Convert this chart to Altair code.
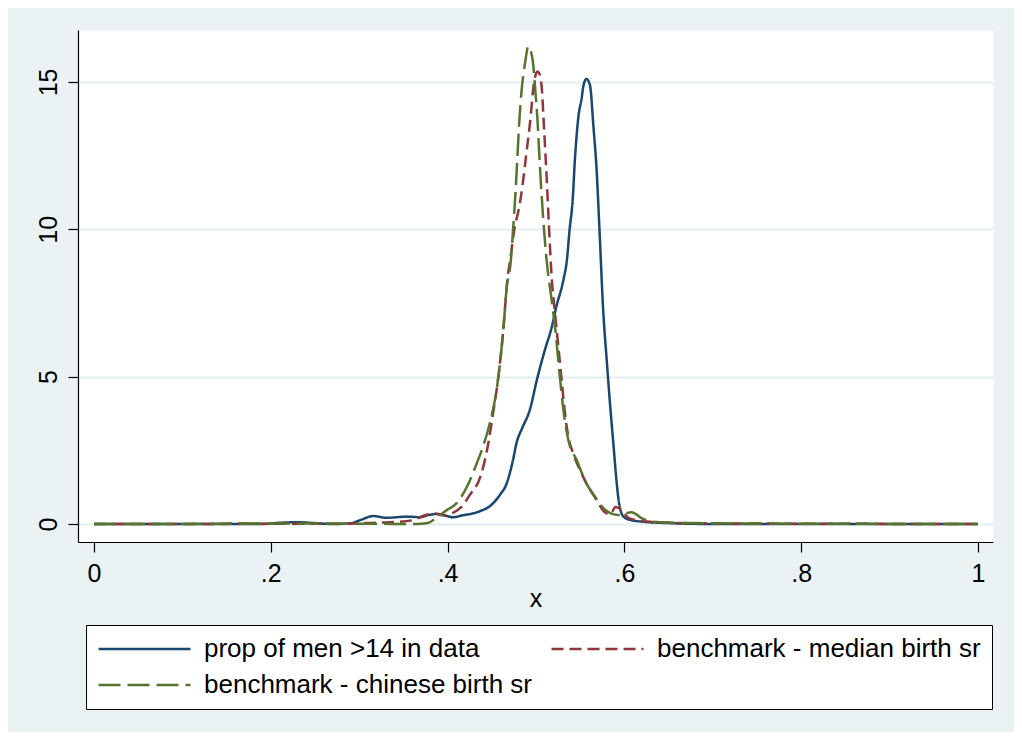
import altair as alt
import pandas as pd

series_names = ["prop of men >14 in data", "benchmark - median birth sr", "benchmark - chinese birth sr"]
series_colors = ["#1A476F", "#90353B", "#55752F"]
series_dashes = [[1, 0], [12, 6], [22, 7]]
# legend entries are laid out column-major: this order puts median in row 1, column 2
legend_order = [0, 2, 1]

x_ticks = [0, 0.2, 0.4, 0.6, 0.8, 1.0]
y_ticks = [0, 5, 10, 15]

blue_x = [0, 0.1, 0.19, 0.21, 0.23, 0.25, 0.27, 0.29, 0.301, 0.316, 0.331, 0.354, 0.369, 0.378,
          0.388, 0.399, 0.406, 0.418, 0.429, 0.437, 0.448, 0.459, 0.467, 0.474, 0.478, 0.485,
          0.493, 0.501, 0.510, 0.518, 0.523, 0.531, 0.535, 0.538, 0.5415, 0.544, 0.548, 0.5517,
          0.5535, 0.557, 0.561, 0.565, 0.5686, 0.572, 0.576, 0.580, 0.584, 0.5875, 0.591, 0.594,
          0.599, 0.606, 0.62, 0.65, 0.7, 0.8, 0.9, 1.0]
blue_y = [0, 0, 0, 0.04, 0.06, 0.03, 0.0, 0.02, 0.13, 0.27, 0.21, 0.25, 0.23, 0.3,
          0.34, 0.27, 0.23, 0.3, 0.36, 0.44, 0.61, 0.98, 1.39, 2.17, 2.75, 3.29,
          3.87, 4.89, 5.9, 6.7, 7.37, 8.28, 8.96, 9.98, 11.0, 12.35, 13.82, 14.45,
          14.84, 15.1, 14.9, 13.48, 12.0, 9.87, 7.26, 5.57, 3.98, 2.74, 1.49, 0.7,
          0.25, 0.14, 0.08, 0.03, 0.0, 0, 0, 0]

red_x = [0, 0.1, 0.2, 0.286, 0.305, 0.335, 0.361, 0.372, 0.384, 0.395, 0.406, 0.416, 0.425,
         0.437, 0.4446, 0.4515, 0.457, 0.463, 0.4676, 0.471, 0.476, 0.48, 0.4846, 0.4887,
         0.4932, 0.4977, 0.5015, 0.5035, 0.5064, 0.509, 0.512, 0.5147, 0.5177, 0.5215, 0.5253,
         0.529, 0.5328, 0.5366, 0.542, 0.5498, 0.557, 0.5687, 0.577, 0.584, 0.59, 0.596,
         0.605, 0.62, 0.65, 0.7, 0.8, 1.0]
red_y = [0, 0, 0.01, 0.01, 0.03, 0.06, 0.13, 0.27, 0.36, 0.3, 0.38, 0.59, 0.98,
         1.6, 2.5, 3.76, 4.89, 6.58, 8.28, 9.0, 10.09, 10.6, 11.45, 12.47,
         13.6, 14.95, 15.35, 15.3, 14.84, 13.48, 11.79, 10.09, 8.39, 7.15, 6.02,
         4.89, 3.76, 2.96, 2.4, 1.83, 1.38, 0.81, 0.42, 0.33, 0.58, 0.5,
         0.2, 0.1, 0.04, 0.02, 0.01, 0]

green_x = [0, 0.1, 0.176, 0.2, 0.3, 0.365, 0.377, 0.388, 0.399, 0.41, 0.422, 0.433, 0.4386,
           0.448, 0.456, 0.463, 0.467, 0.4713, 0.4743, 0.477, 0.479, 0.481, 0.4838, 0.4876,
           0.4913, 0.4962, 0.4995, 0.5015, 0.5045, 0.508, 0.512, 0.5177, 0.5215, 0.527, 0.531,
           0.5366, 0.546, 0.557, 0.5667, 0.576, 0.584, 0.595, 0.608, 0.62, 0.632, 0.678, 0.8, 1.0]
green_y = [0, 0, 0.02, 0.02, 0.01, 0.0, 0.03, 0.23, 0.47, 0.7, 1.27, 2.06, 2.5,
           3.45, 4.66, 6.58, 8.05, 8.86, 10.09, 11.33, 12.47, 13.6, 14.73, 15.63,
           16.2, 15.75, 14.6, 13.8, 12.1, 10.43, 8.96, 7.6, 6.7, 5.0, 3.87,
           2.85, 2.17, 1.38, 0.93, 0.55, 0.37, 0.3, 0.4, 0.19, 0.08, 0.03, 0.01, 0]

rows = []
for name, xs, ys in zip(series_names, [blue_x, red_x, green_x], [blue_y, red_y, green_y]):
    for i, (a, b) in enumerate(zip(xs, ys)):
        rows.append({"x": a, "density": b, "series": name, "idx": i})
df = pd.DataFrame(rows)

dom = [series_names[i] for i in legend_order]
rng_c = [series_colors[i] for i in legend_order]
rng_d = [series_dashes[i] for i in legend_order]

FONT = "Liberation Sans"

legend = alt.Legend(
    title=None, orient="none", legendX=8, legendY=595, columns=2,
    columnPadding=13, rowPadding=10, padding=11,
    strokeColor="black", fillColor="white",
    symbolType="M-1,0H7", symbolSize=529, symbolStrokeWidth=2.4, symbolOffset=0,
    labelOffset=81, labelFontSize=26, labelFont=FONT, labelColor="black", labelLimit=600,
)

chart = alt.Chart(df).mark_line(strokeWidth=2.5, strokeJoin="round", strokeCap="butt",
                                interpolate="monotone").encode(
    x=alt.X("x:Q",
            scale=alt.Scale(domain=[-0.0181, 1.017], nice=False, zero=False),
            axis=alt.Axis(values=x_ticks, title="x",
                          labelExpr="datum.value == 0 ? '0' : datum.value == 1 ? '1' : replace(format(datum.value, '.1f'), '0.', '.')",
                          grid=False, tickSize=10, labelPadding=9, titlePadding=0)),
    y=alt.Y("density:Q",
            scale=alt.Scale(domain=[-0.611, 16.76], nice=False, zero=False),
            axis=alt.Axis(values=y_ticks, title=None, labelAngle=270, labelAlign="center",
                          labelBaseline="bottom", grid=True, tickSize=10, labelPadding=7)),
    color=alt.Color("series:N", scale=alt.Scale(domain=dom, range=rng_c), legend=legend),
    strokeDash=alt.StrokeDash("series:N", scale=alt.Scale(domain=dom, range=rng_d), legend=legend),
    order=alt.Order("idx:Q"),
).properties(
    width=915, height=512,
    autosize=alt.AutoSizeParams(type="none"),
    padding={"left": 70, "top": 22, "right": 21, "bottom": 190},
    background="#EAF2F3",
).configure_view(
    fill="white", stroke="transparent"
).configure_axis(
    labelFont=FONT, titleFont=FONT, labelFontSize=25, titleFontSize=25,
    titleFontWeight="normal", labelColor="black", titleColor="black",
    domainColor="black", domainWidth=1.2, tickColor="black", tickWidth=1.2,
    gridColor="#E4EDEF", gridWidth=2,
)

chart.save("out.html", embed_options={"renderer": "svg", "actions": False})
